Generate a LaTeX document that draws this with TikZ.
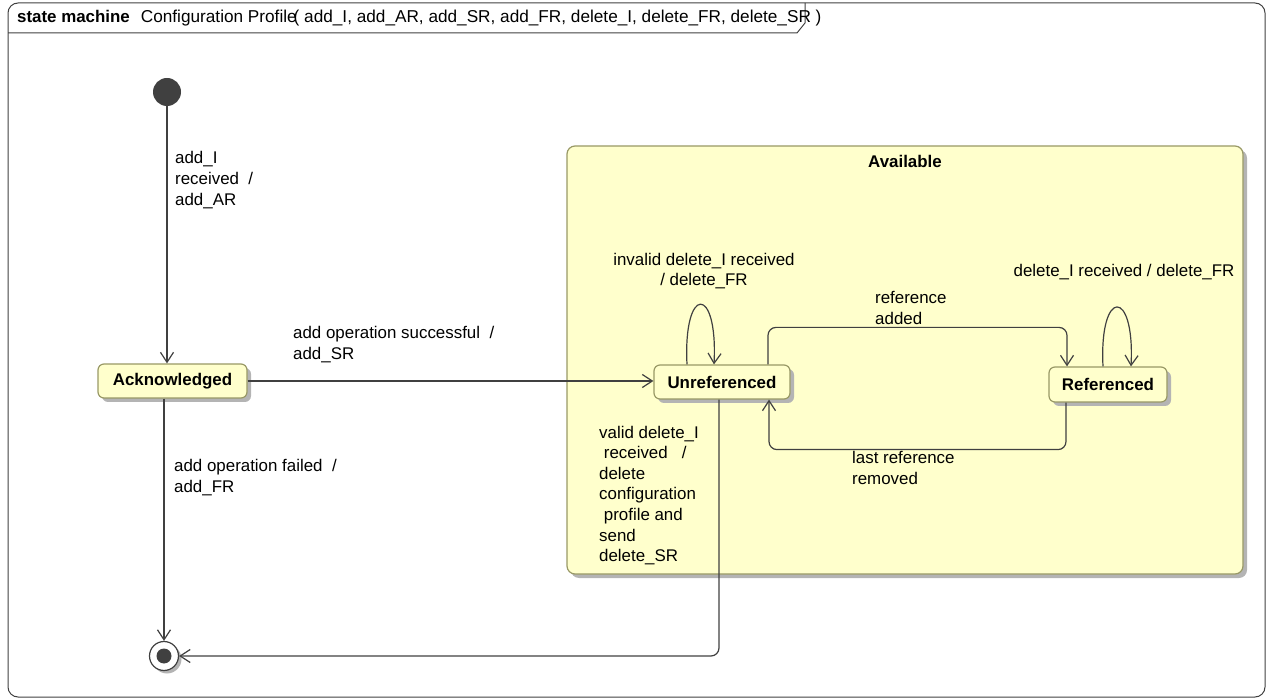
\documentclass[tikz,border=0pt]{standalone}
\usepackage{fontspec}
\setmainfont{Liberation Sans}
\usetikzlibrary{arrows.meta,shadows,calc}
\definecolor{stfill}{RGB}{255,255,204}
\definecolor{stdraw}{RGB}{153,153,102}
\definecolor{shd}{RGB}{180,180,180}
\definecolor{ln}{RGB}{64,64,64}
\begin{document}
\begin{tikzpicture}[x=1pt,y=-1pt,
  font=\fontsize{16.9}{20.6}\selectfont,
  shd/.style={drop shadow={shadow xshift=4pt, shadow yshift=-4pt, fill=shd, opacity=1}},
  state/.style={draw=stdraw, fill=stfill, line width=1.2pt, rounded corners=6pt,
    font=\fontsize{16.9}{20.6}\selectfont\bfseries, inner sep=0pt, shd},
  tr/.style={draw=ln, line width=1.2pt, -{Straight Barb[length=10pt,width=13pt]}},
  lbl/.style={inner sep=0pt, align=left, text=black}]
\useasboundingbox (0,0) rectangle (1270,700);
% frame
\draw[ln, line width=1pt, rounded corners=10pt] (8,3) rectangle (1265,697);
\draw[ln, line width=1pt] (8,33) -- (797,33) -- (805,23) -- (805,3);
\node[anchor=base west, inner sep=0pt] (hdr) at (17,23)
  {\textbf{state machine}\hspace{11pt}{\fontsize{17.2}{20.6}\selectfont Configuration Profile\kern-3pt( add\_I, add\_AR, add\_SR, add\_FR, delete\_I, delete\_FR, delete\_SR )}};
% composite state
\node[draw=stdraw, fill=stfill, line width=1.2pt, rounded corners=8pt, shd,
  minimum width=676pt, minimum height=428pt, inner sep=0pt] (avail) at (905,360) {};
\node[font=\fontsize{16.9}{20.6}\selectfont\bfseries, inner sep=0pt] (availt) at (905,161) {Available};
% states
\node[circle, fill=ln, minimum size=28pt, inner sep=0pt] (init) at (167,92) {};
\node[state, minimum width=149pt, minimum height=34pt] (ack) at (172.5,381) {Acknowledged};
\node[state, minimum width=136pt, minimum height=34pt] (unref) at (722,382) {Unreferenced};
\node[state, minimum width=118pt, minimum height=35pt] (ref) at (1108,384.5) {Referenced};
\node[circle, draw=ln, fill=white, line width=1.2pt, minimum size=29pt, inner sep=0pt,
  drop shadow={shadow xshift=3pt, shadow yshift=-3pt, fill=shd, opacity=1}] (final) at (164,656) {};
\node[circle, fill=ln, minimum size=15pt, inner sep=0pt] (finaldot) at (final.center) {};
% transitions
\draw[tr] (init) -- (init |- ack.north);
\draw[tr] (ack.east) -- (ack.east -| unref.west);
\draw[tr] (final |- ack.south) -- (final.north);
\draw[tr, rounded corners=8pt] ([xshift=-3pt]unref.south) |- (final.east);
\draw[tr, rounded corners=8pt] ([xshift=46pt]unref.north) -- ++(0,-37) -| ([xshift=-41pt]ref.north);
\draw[tr, rounded corners=8pt] ([xshift=-42pt]ref.south) -- ++(0,47) -| ([xshift=47pt]unref.south);
\draw[tr] ([xshift=-35pt]unref.north) .. controls +(-4,-80) and +(4,-80) .. ([xshift=-8pt]unref.north);
\draw[tr] ([xshift=-5pt]ref.north) .. controls +(-4,-79) and +(4,-79) .. ([xshift=23pt]ref.north);
% labels
\node[lbl, anchor=west] (l1) at (175,180) {add\_I\\received\ \ /\\add\_AR};
\node[lbl, anchor=west] (l2) at (293,344.5) {add operation successful\ \ /\\add\_SR};
\node[lbl, anchor=west] (l3) at (174,477.5) {add operation failed\ \ /\\add\_FR};
\node[lbl, align=center] (l4) at (704,271) {invalid delete\_I received\\/ delete\_FR};
\node[lbl] (l5) at (1124,272) {delete\_I received / delete\_FR};
\node[lbl, anchor=west] (l6) at (875,308) {reference\\added};
\node[lbl, anchor=west] (l7) at (852,468) {last reference\\removed};
\node[lbl, anchor=west] (l8) at (599,495.5) {valid delete\_I\\\ received\ \ \ /\\delete\\configuration\\\ profile and\\send\\delete\_SR};
\end{tikzpicture}
\end{document}
